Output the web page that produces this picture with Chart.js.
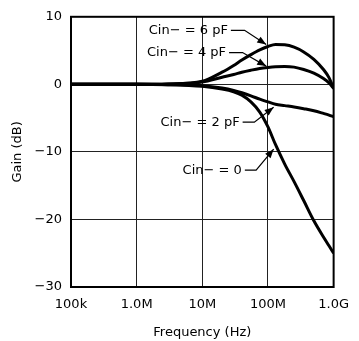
<!DOCTYPE html>
<html>
<head>
<meta charset="utf-8">
<script src="https://cdn.jsdelivr.net/npm/chart.js@4"></script>
<style>
  html, body { margin: 0; padding: 0; background: #fff; }
  #wrap { width: 359px; height: 341px; }
</style>
</head>
<body>
<div id="wrap"><canvas id="gainChart"></canvas></div>
<script>
// frequency points (Hz)
const freq = [1e5, 1e6, 3e6, 1e7, 2e7, 3e7, 4e7, 5.5e7, 7.5e7, 1e8, 1.3e8, 1.8e8, 2.5e8, 3.5e8, 5e8, 7e8, 8.5e8, 1e9];

// gain (dB) for each Cin- value
const gain6pF = [0, 0, 0.05, 0.45, 1.8, 2.8, 3.6, 4.4, 5.1, 5.6, 5.9, 5.85, 5.5, 4.8, 3.7, 2.2, 1.0, -0.6];
const gain4pF = [0, 0, 0.05, 0.35, 1.05, 1.45, 1.8, 2.1, 2.35, 2.5, 2.6, 2.65, 2.55, 2.2, 1.65, 0.85, 0.2, -0.6];
const gain2pF = [0, 0, -0.05, -0.2, -0.55, -0.9, -1.25, -1.7, -2.2, -2.6, -2.95, -3.15, -3.35, -3.6, -3.9, -4.3, -4.55, -4.8];
const gain0pF = [0, 0, -0.05, -0.3, -0.7, -1.1, -1.6, -2.6, -4.1, -6.3, -8.9, -11.8, -14.4, -17.2, -20.2, -22.6, -23.9, -25.0];

const xTickValues = [1e5, 1e6, 1e7, 1e8, 1e9];
const xTickLabels = ["100k", "1.0M", "10M", "100M", "1.0G"];
const yTickValues = [-30, -20, -10, 0, 10];

// label text, text end, elbow and arrow tip in data units
const labels = [
  { text: "Cin\u2212 = 6 pF", end: [2.45e7, 8.0], elbow: [4.4e7, 8.0], tip: [9.4e7, 5.9] },
  { text: "Cin\u2212 = 4 pF", end: [2.3e7, 4.7], elbow: [4.1e7, 4.7], tip: [9.4e7, 2.7] },
  { text: "Cin\u2212 = 2 pF", end: [3.7e7, -5.6], elbow: [6.2e7, -5.6], tip: [1.22e8, -3.4] },
  { text: "Cin\u2212 = 0", end: [4.0e7, -12.7], elbow: [6.6e7, -12.7], tip: [1.22e8, -9.6] },
];

const font = "DejaVu Sans";

function series(ys) {
  return freq.map((f, i) => ({ x: f, y: ys[i] }));
}

function line(ys) {
  return {
    data: series(ys),
    borderColor: "#000",
    borderWidth: 3,
    pointRadius: 0,
    fill: false,
    cubicInterpolationMode: "monotone",
  };
}

const labelPlugin = {
  id: "labels",
  afterDatasetsDraw(chart) {
    const { ctx, scales } = chart;
    const xs = scales.x, ys = scales.y;
    ctx.save();
    ctx.font = "13px '" + font + "'";
    ctx.fillStyle = "#000";
    ctx.strokeStyle = "#000";
    ctx.textAlign = "right";
    ctx.textBaseline = "middle";
    labels.forEach((l) => {
      const ex = xs.getPixelForValue(l.end[0]);
      const ey = ys.getPixelForValue(l.end[1]);
      const bx = xs.getPixelForValue(l.elbow[0]);
      const tx = xs.getPixelForValue(l.tip[0]);
      const ty = ys.getPixelForValue(l.tip[1]);
      ctx.fillText(l.text, ex, ey);
      ctx.lineWidth = 1.2;
      ctx.beginPath();
      ctx.moveTo(ex + 3, ey);
      ctx.lineTo(bx, ey);
      ctx.lineTo(tx, ty);
      ctx.stroke();
      // arrow head
      const a = Math.atan2(ty - ey, tx - bx);
      const len = 9, w = 3.5;
      ctx.beginPath();
      ctx.moveTo(tx, ty);
      ctx.lineTo(tx - len * Math.cos(a) + w * Math.sin(a), ty - len * Math.sin(a) - w * Math.cos(a));
      ctx.lineTo(tx - len * Math.cos(a) - w * Math.sin(a), ty - len * Math.sin(a) + w * Math.cos(a));
      ctx.closePath();
      ctx.fill();
    });
    // frame
    const a = chart.chartArea;
    ctx.lineWidth = 2;
    ctx.strokeRect(a.left, a.top, a.right - a.left, a.bottom - a.top);
    ctx.restore();
  },
};

const ctx = document.getElementById("gainChart");

new Chart(ctx, {
  type: "line",
  data: {
    datasets: [line(gain6pF), line(gain4pF), line(gain2pF), line(gain0pF)],
  },
  options: {
    responsive: true,
    maintainAspectRatio: false,
    animation: false,
    layout: { padding: { top: 16, right: 17, left: 0, bottom: 0 } },
    plugins: { legend: { display: false }, tooltip: { enabled: false } },
    scales: {
      x: {
        type: "logarithmic",
        min: 1e5,
        max: 1e9,
        afterBuildTicks: (s) => { s.ticks = xTickValues.map((v) => ({ value: v })); },
        afterFit: (s) => { s.height = 54; },
        ticks: {
          autoSkip: false,
          maxRotation: 0,
          padding: 10,
          color: "#000",
          font: { family: font, size: 13 },
          callback: (v) => {
            const i = xTickValues.indexOf(v);
            return i >= 0 ? xTickLabels[i] : "";
          },
        },
        grid: { color: "#222", lineWidth: 1, drawTicks: false },
        border: { display: false },
        title: {
          display: true,
          text: "Frequency (Hz)",
          color: "#000",
          font: { family: font, size: 13 },
          padding: { top: 0, bottom: 1 },
        },
      },
      y: {
        min: -30,
        max: 10,
        afterBuildTicks: (s) => { s.ticks = yTickValues.map((v) => ({ value: v })); },
        afterFit: (s) => { s.width = 71; },
        ticks: {
          padding: 9,
          color: "#000",
          font: { family: font, size: 13 },
          callback: (v) => (v < 0 ? "\u2212" + Math.abs(v) : String(v)),
        },
        grid: { color: "#222", lineWidth: 1, drawTicks: false },
        border: { display: false },
        title: {
          display: true,
          text: "Gain (dB)",
          color: "#000",
          font: { family: font, size: 13 },
          padding: { top: 10, bottom: 0 },
        },
      },
    },
  },
  plugins: [labelPlugin],
});
</script>
</body>
</html>
